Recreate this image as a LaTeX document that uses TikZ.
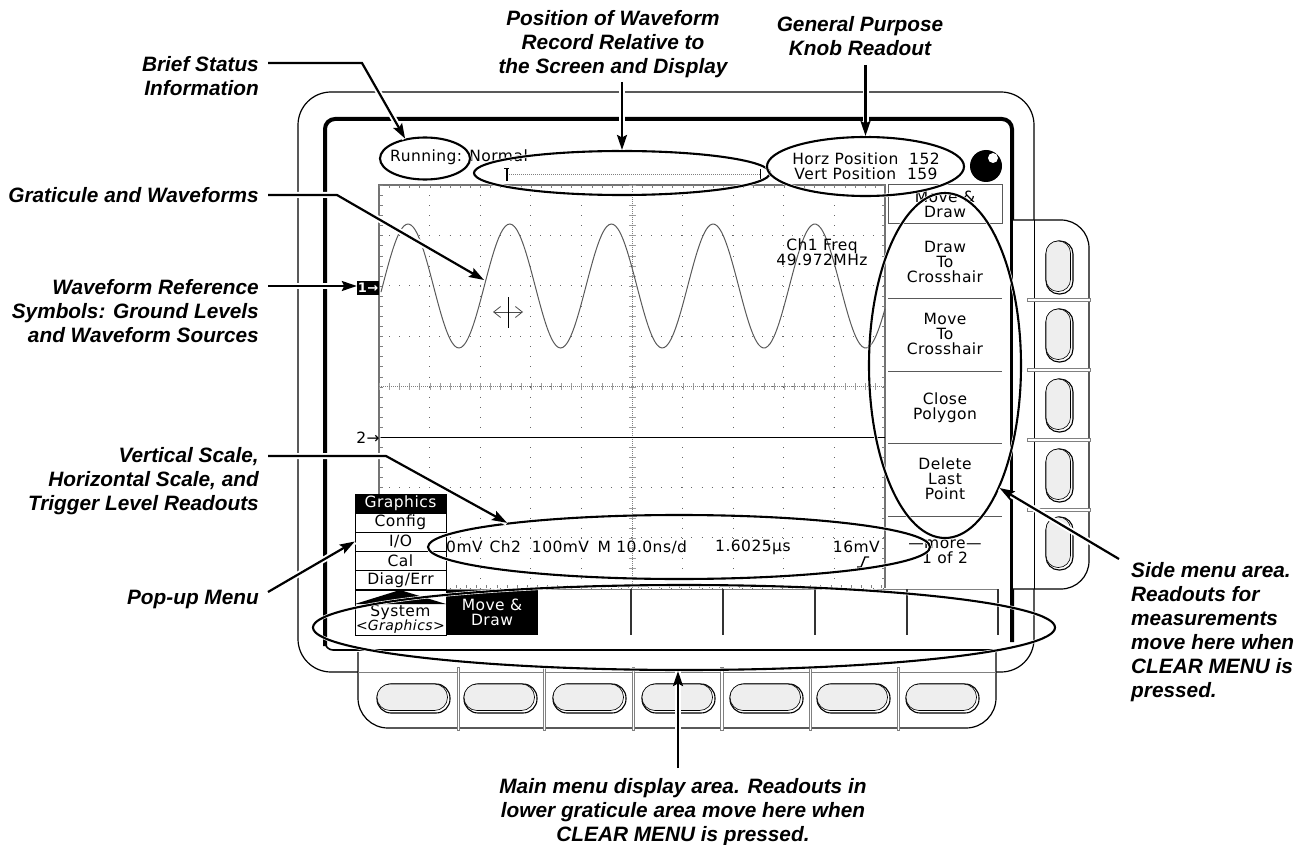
\documentclass[tikz,border=0pt]{standalone}
\usepackage{fontspec}
\setmainfont{Liberation Sans}
\newfontfamily\screenfont[LetterSpace=3]{DejaVu Sans}
\usetikzlibrary{shapes.geometric,arrows.meta}
\tikzset{
 callout/.style={font=\fontsize{20.8}{24}\selectfont\bfseries\itshape,inner sep=0pt},
 screentext/.style={font=\screenfont\fontsize{15.5}{14.8}\selectfont,inner sep=0pt,align=center},
 ring/.style={draw,ellipse,line width=2.1pt,inner sep=0pt,preaction={draw=white,line width=3.4pt}},
 leader/.style={line width=2.2pt,-{Stealth[length=15pt,width=10pt,inset=2.5pt]},preaction={draw=white,line width=6pt,-}},
 gratdots/.style={gray!80!black,line width=1pt,dash pattern=on 1pt off 9.08pt},
 popcell/.style={draw,fill=white,minimum width=91pt,minimum height=19pt,inner sep=0pt,font=\screenfont\fontsize{15.5}{14.8}\selectfont},
 keyshell/.style={draw,line width=1.1pt,fill=white},
 keyface/.style={draw,line width=.6pt,fill=gray!13},
 keybar/.style={draw=gray,line width=.6pt,fill=white},
}
\begin{document}
\begin{tikzpicture}[x=1pt,y=-1pt]
 \useasboundingbox (0,0) rectangle (1307,845);
 % bezel
 \draw[line width=1.2pt,rounded corners=33pt] (298,92) rectangle (1034,672);
 \draw[line width=4pt,rounded corners=10pt] (325,646) -- (325,119) -- (1012,119) -- (1012,642);
 \draw[line width=1.6pt,rounded corners=8pt] (325,640) -- (325,650) -- (1000,650);
 % side keys
 \draw[line width=1.2pt,fill=white,rounded corners=28pt] (1012,220) -- (1089,220) -- (1089,589) -- (1012,589);
 \draw[line width=2.5pt] (1012,220) -- (1012,589);
 \draw[line width=1pt] (1034,220) -- (1034,589);
 \foreach \y in {298.5,368.5,438.5,508.5} {
  \draw[keybar] (1027,\y) rectangle (1090,{\y+3});
 }
 \foreach \y in {241,309,379,449,517} {
  \draw[keyshell,rounded corners=13pt] (1046,\y) rectangle (1073,{\y+53});
  \draw[keyface,rounded corners=12pt] (1046,\y) rectangle (1070.5,{\y+50.5});
 }
 % bottom keys
 \draw[line width=1.2pt,fill=white,rounded corners=30pt] (358,652) -- (358,728) -- (996,728) -- (996,652);
 \draw[gray,line width=.8pt] (358,672) -- (996,672);
 \foreach \x in {457,543,632,720.5,809,897} {
  \draw[keybar] (\x,667) rectangle ({\x+2.5},730);
 }
 \foreach \x in {377,464,553,642,730,817,906} {
  \draw[keyshell,rounded corners=14pt] (\x,684) rectangle ({\x+73},713);
  \draw[keyface,rounded corners=13pt] (\x,684) rectangle ({\x+70.5},710.5);
 }
 % graticule
 \foreach \i in {0,...,10} {
  \draw[gratdots] ({379+\i*50.6},185) -- ({379+\i*50.6},588);
 }
 \foreach \j in {0,...,8} {
  \draw[gratdots] (379,{185+\j*50.4}) -- (885,{185+\j*50.4});
 }
 \draw[gray!90!black,line width=1.1pt] (885,588) -- (885,185) -- (379,185) -- (379,510);
 \draw[gray,line width=3pt,dash pattern=on 1pt off 9.08pt] (381,185) -- (381,510);
 \draw[gray,line width=3pt,dash pattern=on 1pt off 9.08pt] (883,185) -- (883,588);
 \draw[gray,line width=3pt,dash pattern=on 1pt off 9.12pt] (379,187) -- (885,187);
 \draw[gray,line width=3pt,dash pattern=on 1pt off 9.12pt] (446,586.5) -- (885,586.5);
 \draw[gray!75,line width=7pt,dash pattern=on 1pt off 9.08pt] (632.3,185) -- (632.3,588);
 \draw[gray!75,line width=7pt,dash pattern=on 1pt off 9.12pt] (379,386.6) -- (885,386.6);
 \draw[gray,line width=1pt,densely dotted] (632.3,185) -- (632.3,588);
 \draw[gray,line width=1pt,densely dotted] (379,386.6) -- (885,386.6);
 % traces
 \draw[black!65,line width=1pt,domain=381:885,samples=220,smooth,variable=\x] plot({\x},{286-62*sin((\x-382.6)*3.5398)});
 \draw[line width=1pt] (381,437) -- (885,437);
 \node[fill=black,text=white,minimum width=22pt,minimum height=14pt,inner sep=0pt,font=\screenfont\bfseries\fontsize{13}{13}\selectfont] (refone) at (368,288) {1→};
 \node[screentext] (reftwo) at (368,438) {2→};
 \draw[black!70,line width=.8pt,{Straight Barb[length=7pt,width=11pt]}-{Straight Barb[length=7pt,width=11pt]}] (493,312) -- (523,312);
 \draw[line width=.8pt] (508,297) -- (508,328);
 \node[screentext] (chfreq) at (822,252) {Ch1 Freq\\49.972MHz};
 % status row
 \node[screentext,anchor=west] (runtext) at (390,157) {Running: Normal};
 \draw[gray,line width=1pt,densely dotted] (507,174.5) -- (760,174.5);
 \draw[line width=1.6pt] (504,168.5) -- (509,168.5) (507,168) -- (507,181);
 \draw[line width=1pt] (760,169) -- (760,181);
 \node[screentext] (knobtext) at (866,166) {Horz Position\hspace{.7em}152\\Vert Position\hspace{.7em}159};
 \fill[black] (986,166) circle(16pt);
 \fill[white] (993,158) circle(5pt);
 % side menu
 \draw[gray!70!black,line width=1pt,fill=white] (888,185) rectangle (1002,224);
 \foreach \y in {298,371,443,516} {
  \draw[gray!70!black,line width=1pt] (888,\y) -- (1002,\y);
 }
 \node[screentext] (sideone) at (945,204) {Move \&\\Draw};
 \node[screentext] (sidetwo) at (945,262) {Draw\\To\\Crosshair};
 \node[screentext] (sidethree) at (945,334) {Move\\To\\Crosshair};
 \node[screentext] (sidefour) at (945,407.5) {Close\\Polygon};
 \node[screentext] (sidefive) at (945,479) {Delete\\Last\\Point};
 \node[screentext] (sidemore) at (945,552) {—more—\\1 of 2};
 % main menu
 \draw[gray,line width=1pt] (446,589) -- (998,589);
 \foreach \x in {631,723,815,907,998} {
  \draw[black!80,line width=1.2pt] (\x,589) -- (\x,635);
 }
 \node[fill=black,text=white,minimum width=92pt,minimum height=45pt,inner sep=0pt,align=center,font=\screenfont\fontsize{15.5}{15.5}\selectfont] (mainone) at (492,612.5) {Move \&\\Draw};
 % pop-up menu
 \draw[line width=1pt,fill=white] (355,590) rectangle (446,635);
 \node[popcell,fill=black,text=white] (popgraphics) at (400.5,503.5) {Graphics};
 \node[popcell] (popconfig) at (400.5,522.5) {Config};
 \node[popcell] (popio) at (400.5,541.5) {I/O};
 \node[popcell] (popcal) at (400.5,560.5) {Cal};
 \node[popcell] (popdiag) at (400.5,580) {Diag/Err};
 \fill[black] (355,604) -- (400,590) -- (446,604) -- cycle;
 \node[screentext] (popsystem) at (400.5,612) {System};
 \node[screentext,font=\screenfont\fontsize{14}{14.8}\selectfont] (popmode) at (400.5,627) {<\textit{Graphics}>};
 % readouts
 \node[screentext,anchor=west] (readone) at (446,547) {0mV\hspace{.45em}Ch2\hspace{.7em}100mV\hspace{.55em}M 10.0ns/d};
 \node[screentext,anchor=west] (readtwo) at (715,547) {1.6025µs};
 \node[screentext,anchor=east] (readthree) at (880,547) {16mV};
 \draw[line width=1.4pt] (857,567) -- (861,567) -- (865,557) -- (869,557);
 % rings
 \node[ring,minimum width=90pt,minimum height=42pt] (runring) at (425,158.5) {};
 \node[ring,minimum width=296pt,minimum height=44pt] (recordring) at (622,173) {};
 \node[ring,minimum width=197pt,minimum height=59pt] (knobring) at (865.5,166.5) {};
 \node[ring,minimum width=152pt,minimum height=345pt] (sidering) at (945,365.5) {};
 \node[ring,minimum width=502pt,minimum height=64pt] (readring) at (679,547) {};
 \node[ring,minimum width=742pt,minimum height=85pt] (menuring) at (684,627.5) {};
 % callouts
 \node[callout,anchor=east,align=right] (brieflabel) at (259,76) {Brief Status\\Information};
 \node[callout,anchor=east,align=right] (gratlabel) at (259,195) {Graticule and Waveforms};
 \node[callout,anchor=east,align=right] (reflabel) at (259,311) {Waveform Reference\\Symbols: Ground Levels\\and Waveform Sources};
 \node[callout,anchor=east,align=right] (scalelabel) at (259,481) {Vertical Scale,\\Horizontal Scale, and\\Trigger Level Readouts};
 \node[callout,anchor=east,align=right] (poplabel) at (259,600) {Pop-up Menu};
 \node[callout,align=center] (poslabel) at (613,44) {Position of Waveform\\Record Relative to\\the Screen and Display};
 \node[callout,align=center] (knoblabel) at (860,36) {General Purpose\\Knob Readout};
 \node[callout,anchor=west,align=left] (sidelabel) at (1131,632.5) {Side menu area.\\Readouts for\\measurements\\move here when\\CLEAR MENU is\\pressed.};
 \node[callout,align=center] (mainlabel) at (683,812) {Main menu display area. Readouts in\\lower graticule area move here when\\CLEAR MENU is pressed.};
 % leaders
 \coordinate (briefstart) at (268,63);
 \coordinate (briefbend) at (362,63);
 \coordinate (gratstart) at (268,195);
 \coordinate (gratbend) at (337,195);
 \coordinate (wavepoint) at (484,280);
 \coordinate (refstart) at (268,286);
 \coordinate (scalestart) at (268,456);
 \coordinate (scalebend) at (386,456);
 \coordinate (popstart) at (268,592);
 \coordinate (posstart) at (622,82);
 \coordinate (knobstart) at (865.5,65);
 \coordinate (sidestart) at (1119,559);
 \coordinate (mainstart) at (678,768);
 \draw[leader] (briefstart) -- (briefbend) -- (runring.135);
 \draw[leader] (gratstart) -- (gratbend) -- (wavepoint);
 \draw[leader] (refstart) -- (refone.west |- refstart);
 \draw[leader] (scalestart) -- (scalebend) -- (readring.172);
 \draw[leader] (popstart) -- (popio.west);
 \draw[leader] (posstart) -- (recordring.north);
 \draw[leader] (knobstart) -- (knobring.north);
 \draw[leader] (sidestart) -- (sidering.-66);
 \draw[leader] (mainstart) -- (menuring.south -| mainstart);
\end{tikzpicture}
\end{document}
